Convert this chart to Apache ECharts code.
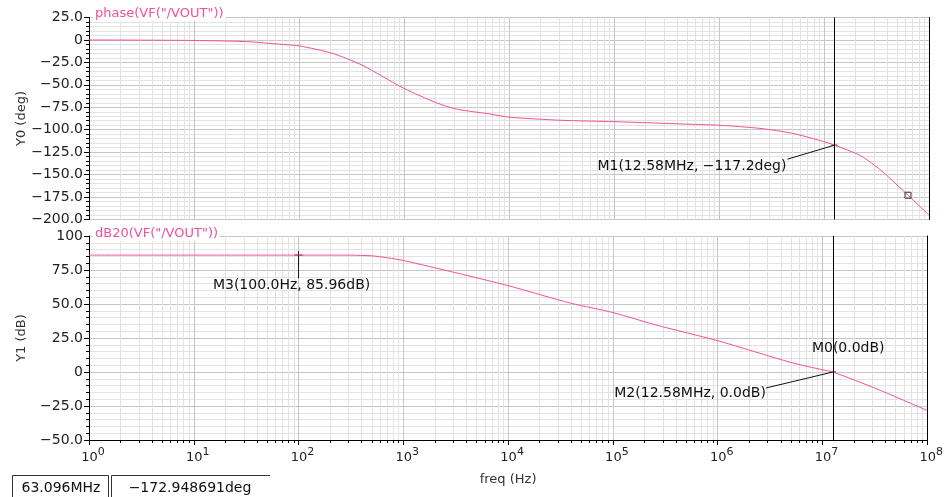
<!DOCTYPE html>
<html lang="en" style="height: 100%">
<head>
<meta charset="utf-8">
</head>
<body style="height: 100%; margin: 0; background: #fff">
<div id="container" style="width: 946px; height: 497px"></div>
<script src="https://cdn.jsdelivr.net/npm/echarts@6/dist/echarts.min.js"></script>
<script>
// phase curve
var phaseFreq = [1, 10, 31.6, 81, 100, 209, 398, 631, 1000, 2040, 3160, 6610, 10000, 31600,
                 100000, 562000, 1000000, 2450000, 5010000, 9120000, 12580000, 22400000,
                 35500000, 63096000, 100000000];
var phaseDeg = [0, -0.6, -1.9, -5.6, -6.5, -15, -28, -41, -54, -70, -77, -82.5, -86, -89.5,
                -91, -94, -95, -98.5, -104, -112, -117.2, -129, -146, -172.9, -195];

// gain curve
var gainFreq = [1, 10, 100, 316, 501, 708, 1000, 3160, 10000, 40000, 100000, 251000,
                1000000, 5010000, 10000000, 12580000, 33900000, 100000000];
var gainDb = [85.96, 85.96, 85.96, 85.9, 85.4, 84, 82, 73, 63.5, 50.5, 43.7, 34.8,
              23, 7, 1.6, 0, -12.8, -28.3];

// markers
var markerNames = ['M1', 'M2', 'M0', 'M3'];
var markerText = ['M1(12.58MHz, \u2212117.2deg)', 'M2(12.58MHz, 0.0dB)', 'M0(0.0dB)', 'M3(100.0Hz, 85.96dB)'];
var markerFreq = [12580000, 12580000, 12580000, 100];
var markerValue = [-117.2, 0, 0, 85.96];
var markerPanel = [0, 1, 1, 1];

var cursorFreq = 63096000;
var cursorValue = -172.948691;
var crossFreq = 12580000;

var PINK = '#f0509c';
var FONT = 'DejaVu Sans';

var dom = document.getElementById('container');
var myChart = echarts.init(dom);

function yFmt(v) {
    if (v === 0) return '0';
    if (v === 100) return '100';
    return (v < 0 ? '\u2212' : '') + Math.abs(v).toFixed(1);
}

function xAxisFor(idx, bottom) {
    return {
        type: 'log',
        logBase: 10,
        gridIndex: idx,
        min: 1,
        max: 1e8,
        splitNumber: 8,
        axisLine: { show: bottom, onZero: false, lineStyle: { color: '#000' } },
        axisTick: { show: bottom, length: 5, lineStyle: { color: '#000' } },
        minorTick: { show: bottom, splitNumber: 9, length: 3, lineStyle: { color: '#000' } },
        splitLine: { show: true, lineStyle: { color: '#c6c6c6' } },
        minorSplitLine: { show: true, lineStyle: { color: '#e3e3e3' } },
        axisLabel: {
            show: bottom,
            margin: 7,
            padding: [0, 0, 0, 8],
            formatter: function (v) {
                return '{b|10}{s|' + Math.round(Math.log10(v)) + '}';
            },
            rich: {
                b: { fontFamily: FONT, fontSize: 13, color: '#222', lineHeight: 22 },
                s: { fontFamily: FONT, fontSize: 11, color: '#222', lineHeight: 12, verticalAlign: 'top' }
            }
        },
        name: bottom ? 'freq (Hz)' : '',
        nameLocation: 'middle',
        nameGap: 33,
        nameTextStyle: { fontFamily: FONT, fontSize: 13, color: '#333' }
    };
}

function yAxisFor(idx, min, max, name) {
    return {
        type: 'value',
        gridIndex: idx,
        min: min,
        max: max,
        interval: 25,
        axisLine: { show: true, onZero: false, lineStyle: { color: '#000' } },
        axisTick: { show: true, length: 5, lineStyle: { color: '#000' } },
        minorTick: { show: true, splitNumber: 5, length: 3, lineStyle: { color: '#000' } },
        splitLine: { show: true, lineStyle: { color: '#c6c6c6' } },
        minorSplitLine: { show: true, lineStyle: { color: '#e3e3e3' } },
        axisLabel: { formatter: yFmt, fontFamily: FONT, fontSize: 14, color: '#222', margin: 6 },
        name: name,
        nameLocation: 'middle',
        nameGap: 61,
        nameMoveOverlap: false,
        nameTextStyle: { fontFamily: FONT, fontSize: 13, color: '#333' }
    };
}

function borderAxis(idx, min, max) {
    return {
        type: 'value', gridIndex: idx, position: 'right', min: min, max: max,
        axisLine: { show: true, onZero: false, lineStyle: { color: '#000' } },
        axisTick: { show: false }, axisLabel: { show: false }, splitLine: { show: false }
    };
}

function zip(xs, ys) {
    return xs.map(function (x, i) { return [x, ys[i]]; });
}

var crossLine = {
    silent: true,
    symbol: ['none', 'none'],
    label: { show: false },
    lineStyle: { color: '#000', type: 'solid', width: 1 },
    data: [{ xAxis: crossFreq }]
};

var titleStyle = { fontFamily: FONT, fontSize: 13, fontWeight: 'normal', color: PINK };

var option = {
    animation: false,
    backgroundColor: '#fff',
    title: [
        { text: 'phase(VF("/VOUT"))', left: 93, top: 6, padding: [1, 2], backgroundColor: '#fff', textStyle: titleStyle },
        { text: 'dB20(VF("/VOUT"))', left: 93, top: 226, padding: [1, 2], backgroundColor: '#fff', textStyle: titleStyle }
    ],
    grid: [
        { left: 89, right: 17, top: 17.5, height: 202 },
        { left: 89, right: 17, top: 236, height: 204 }
    ],
    xAxis: [xAxisFor(0, false), xAxisFor(1, true)],
    yAxis: [
        yAxisFor(0, -200, 25, 'Y0 (deg)'),
        yAxisFor(1, -50, 100, 'Y1 (dB)'),
        borderAxis(0, -200, 25),
        borderAxis(1, -50, 100)
    ],
    series: [
        {
            type: 'line', xAxisIndex: 0, yAxisIndex: 0,
            data: zip(phaseFreq, phaseDeg),
            showSymbol: false,
            smooth: 0.25,
            lineStyle: { color: PINK, width: 1 },
            markLine: crossLine,
            markPoint: {
                silent: true,
                symbol: 'rect',
                symbolSize: 6,
                label: { show: false },
                itemStyle: { color: 'rgba(255,255,255,0)', borderColor: '#333', borderWidth: 1 },
                data: [{ coord: [cursorFreq, cursorValue] }]
            }
        },
        {
            type: 'line', xAxisIndex: 1, yAxisIndex: 1,
            data: zip(gainFreq, gainDb),
            showSymbol: false,
            smooth: 0.25,
            lineStyle: { color: PINK, width: 1 },
            markLine: crossLine
        }
    ]
};

myChart.setOption(option);

// annotation placement relative to the marker point (px)
var annotLayout = {
    M1: { align: 'right', dx: -48, dy: 21, lead: [-47, 14] },
    M2: { align: 'right', dx: -67, dy: 21, lead: [-67, 16] },
    M0: { align: 'left', dx: -21, dy: -24 },
    M3: { align: 'center', dx: -7, dy: 30, drop: 23 }
};

var textFont = '14px "' + FONT + '"';
var els = [];
markerNames.forEach(function (name, i) {
    var g = markerPanel[i];
    var p = myChart.convertToPixel({ xAxisIndex: g, yAxisIndex: g }, [markerFreq[i], markerValue[i]]);
    var lay = annotLayout[name];
    var ink = { stroke: '#111', lineWidth: 1 };
    if (lay.lead) {
        els.push({ type: 'line', shape: { x1: p[0], y1: p[1], x2: p[0] + lay.lead[0], y2: p[1] + lay.lead[1] }, style: ink });
        els.push({ type: 'line', shape: { x1: p[0] - 3, y1: p[1], x2: p[0] + 3, y2: p[1] }, style: ink });
    }
    if (lay.drop) {
        els.push({ type: 'line', shape: { x1: p[0], y1: p[1] - 4, x2: p[0], y2: p[1] + lay.drop }, style: ink });
        els.push({ type: 'line', shape: { x1: p[0] - 4, y1: p[1], x2: p[0] + 4, y2: p[1] }, style: ink });
    }
    els.push({
        type: 'text', z: 10,
        style: { text: markerText[i], x: p[0] + lay.dx, y: p[1] + lay.dy, font: textFont, fill: '#111', align: lay.align, verticalAlign: 'middle' }
    });
});

// readout boxes at the bottom left
var readFreq = (cursorFreq / 1e6).toFixed(3) + 'MHz';
var readVal = '\u2212' + Math.abs(cursorValue).toFixed(6) + 'deg';
var boxInk = { stroke: '#333', lineWidth: 1 };
els.push({ type: 'polyline', shape: { points: [[12.5, 497], [12.5, 475.5], [108.5, 475.5], [108.5, 497]] }, style: boxInk });
els.push({ type: 'polyline', shape: { points: [[111.5, 497], [111.5, 475.5], [270, 475.5]] }, style: boxInk });
els.push({ type: 'text', style: { text: readFreq, x: 61, y: 488, font: textFont, fill: '#111', align: 'center', verticalAlign: 'middle' } });
els.push({ type: 'text', style: { text: readVal, x: 190, y: 488, font: textFont, fill: '#111', align: 'center', verticalAlign: 'middle' } });

myChart.setOption({ graphic: els });

window.addEventListener('resize', myChart.resize);
</script>
</body>
</html>
